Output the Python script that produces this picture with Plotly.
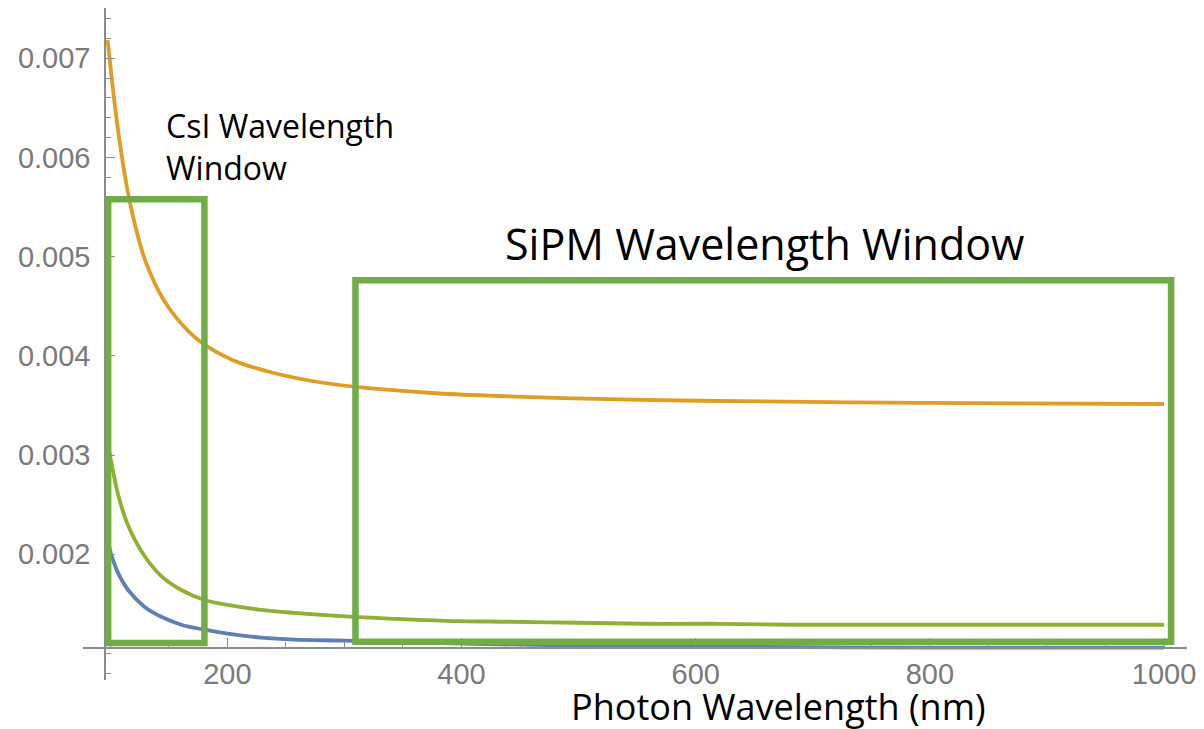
import plotly.graph_objects as go

# Curve samples (wavelength in nm, value)
wl_orange = [97.7, 101.4, 104.8, 108.2, 112.4, 116.7, 121.8, 127.7, 133.7, 142.2, 150.7,
             161.7, 176.2, 204.3, 233.2, 272.3, 309.7, 374.3, 431.2, 516.3, 601.3,
             734.8, 875.9, 1000]
orange = [0.007184, 0.006781, 0.006439, 0.006146, 0.005824, 0.005551, 0.005289, 0.005037,
          0.004846, 0.004634, 0.004473, 0.004312, 0.004150, 0.003959, 0.003848, 0.003747,
          0.003687, 0.003626, 0.003596, 0.003566, 0.003548, 0.003532, 0.003522, 0.003515]

wl_green = [97.7, 100.5, 106.7, 115.2, 129.4, 143.6, 160.6, 180.4, 200.3, 228.7, 257,
            308, 342, 385.9, 442.3, 499.3, 556, 612.3, 683.7, 811, 1000]
green = [0.00312, 0.00295, 0.00260, 0.00229, 0.00198, 0.00178, 0.00164, 0.00154, 0.00149,
         0.00144, 0.00141, 0.00137, 0.00135, 0.00133, 0.00132, 0.00131, 0.00130, 0.00130,
         0.00129, 0.00129, 0.00129]

wl_blue = [97.7, 100.5, 106.7, 115.2, 129.4, 143.6, 160.6, 180.4, 200.3, 228.7, 257,
           300, 400, 500, 600, 800, 1000]
blue = [0.00215, 0.00201, 0.00181, 0.00164, 0.00147, 0.00137, 0.00129, 0.00124, 0.00120,
        0.00116, 0.00114, 0.00113, 0.00110, 0.00108, 0.00107, 0.00106, 0.00106]

# Axis ticks
x_tick_vals = [200, 400, 600, 800, 1000]
y_tick_vals = [0.002, 0.003, 0.004, 0.005, 0.006, 0.007]

# Highlighted wavelength windows: (x0, x1, y0, y1)
csi_window = (98.2, 180.4, 0.001106, 0.005579)
sipm_window = (309.4, 1006, 0.001119, 0.004762)

X_RANGE = [76.7, 1019.6]
Y_RANGE = [0.000733, 0.007507]
X_CROSS = 95.5      # where the y axis sits
Y_CROSS = 0.00106   # where the x axis sits

fig = go.Figure()
for xs, ys, col in [(wl_blue, blue, "#5E81B5"),
                    (wl_green, green, "#8FB032"),
                    (wl_orange, orange, "#E19C24")]:
    fig.add_trace(go.Scatter(x=xs, y=ys, mode="lines",
                             line=dict(color=col, width=3.8, shape="spline", smoothing=1.0),
                             showlegend=False, hoverinfo="skip"))

box_green = "#70AD47"
for (x0, x1, y0, y1) in [csi_window, sipm_window]:
    fig.add_shape(type="rect", xref="x", yref="y", x0=x0, x1=x1, y0=y0, y1=y1,
                  line=dict(color=box_green, width=6.5), fillcolor="rgba(0,0,0,0)",
                  layer="above")

label_font = dict(family="Open Sans, sans-serif", color="black")
fig.add_annotation(x=146.4, y=0.006111, xref="x", yref="y",
                   text="CsI Wavelength<br>Window", showarrow=False,
                   xanchor="left", yanchor="middle", align="left", borderpad=0,
                   font=dict(size=32, **label_font))
fig.add_annotation(x=659.1, y=0.005138, xref="x", yref="y",
                   text="SiPM Wavelength Window", showarrow=False,
                   xanchor="center", yanchor="middle", borderpad=0,
                   font=dict(size=43, **label_font))
fig.add_annotation(x=0.630, y=-0.039, xref="paper", yref="paper",
                   text="Photon Wavelength (nm)", showarrow=False,
                   xanchor="center", yanchor="middle", borderpad=0,
                   font=dict(size=36, **label_font))

tick_font = dict(family="Liberation Sans, Arial, sans-serif", size=29, color="#7a7a7a")
axis_grey = "#8c8c8c"
xfrac = (X_CROSS - X_RANGE[0]) / (X_RANGE[1] - X_RANGE[0])
yfrac = (Y_CROSS - Y_RANGE[0]) / (Y_RANGE[1] - Y_RANGE[0])

fig.update_layout(
    width=1204, height=729,
    margin=dict(l=83, r=12, t=8, b=49),
    paper_bgcolor="white", plot_bgcolor="white",
    xaxis=dict(range=X_RANGE, anchor="free", position=yfrac,
               showgrid=False, zeroline=False, showline=True,
               linecolor=axis_grey, linewidth=1.5,
               tickmode="array", tickvals=x_tick_vals,
               ticks="inside", ticklen=9, tickwidth=1.2, tickcolor=axis_grey,
               tickfont=tick_font, ticklabelstandoff=1,
               minor=dict(tickmode="linear", tick0=0, dtick=50, ticks="inside",
                          ticklen=5, tickwidth=1, tickcolor=axis_grey)),
    yaxis=dict(range=Y_RANGE, anchor="free", position=xfrac,
               showgrid=False, zeroline=False, showline=True,
               linecolor=axis_grey, linewidth=1.5,
               tickmode="array", tickvals=y_tick_vals, tickformat=".3f",
               ticks="inside", ticklen=9, tickwidth=1.2, tickcolor=axis_grey,
               tickfont=tick_font, ticklabelstandoff=8,
               minor=dict(tickmode="linear", tick0=0, dtick=0.0002, ticks="inside",
                          ticklen=5, tickwidth=1, tickcolor=axis_grey)),
)

fig.write_html("out.html")
